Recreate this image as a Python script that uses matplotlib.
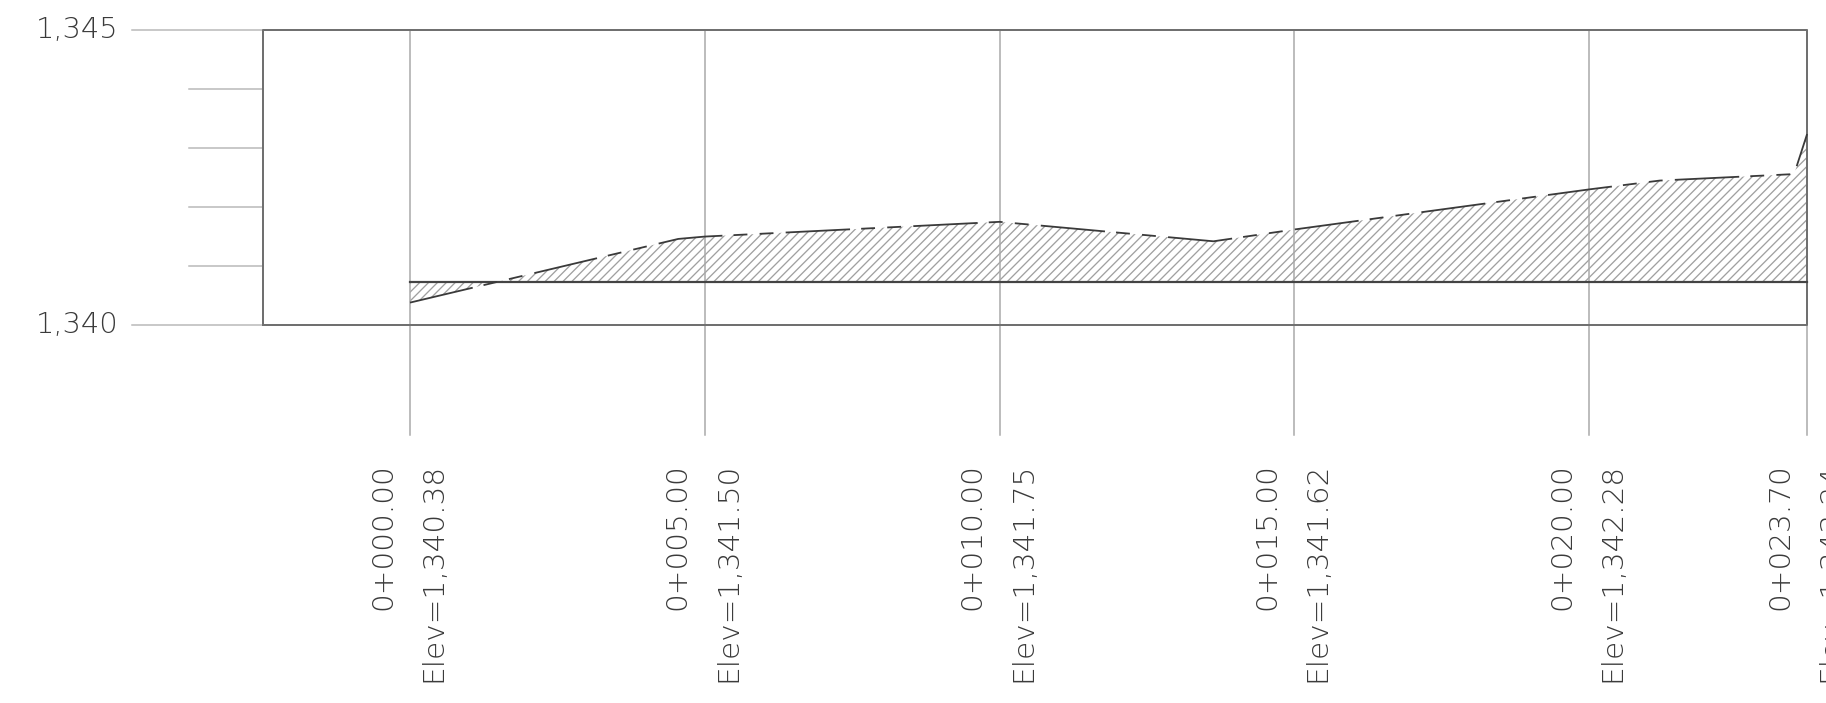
import numpy as np
import matplotlib
matplotlib.use('Agg')
import matplotlib.pyplot as plt

# profile data (stations in m, elevations in m)
stations = [0, 5, 10, 15, 20, 23.70]
station_labels = ['0+000.00', '0+005.00', '0+010.00', '0+015.00', '0+020.00', '0+023.70']
elev_labels = ['Elev=1,340.38', 'Elev=1,341.50', 'Elev=1,341.75', 'Elev=1,341.62',
               'Elev=1,342.28', 'Elev=1,343.24']

ground_st = [0, 4.55, 5, 10, 13.63, 15, 20, 21.2, 23.48, 23.70]
ground_el = [1340.38, 1341.46, 1341.50, 1341.75, 1341.42, 1341.62, 1342.30, 1342.45, 1342.56, 1343.24]

datum_el = 1340.73
y_major = [1340, 1345]
y_major_labels = ['1,340', '1,345']
y_minor = [1341, 1342, 1343, 1344]

frame_left = -2.5
frame_right = 23.70
grid_bottom = 1338.13

# pixel scale of the drawing
px_per_m = 58.95
W, H = 1826, 703
x0_px, y0_px = 410, 325   # where station 0 / elev 1340 sit

dpi = 80
plt.rcParams['lines.scale_dashes'] = False
plt.rcParams['font.family'] = ['DejaVu Sans']
fig = plt.figure(figsize=(W / dpi, H / dpi), dpi=dpi)
ax = fig.add_axes([0, 0, 1, 1])
ax.set_xlim(-x0_px / px_per_m, (W - x0_px) / px_per_m)
ax.set_ylim(1340 - (H - y0_px) / px_per_m, 1340 + y0_px / px_per_m)
ax.axis('off')

px = 72 / dpi  # one pixel in points
frame_c = '#707070'
grid_c = '#a8a8a8'
text_c = '#3a3a3a'

# hatched area between ground and datum
plt.rcParams['hatch.linewidth'] = 1.3 * px
st = np.array(ground_st)
gl = np.array(ground_el)
ax.fill_between(st, gl, datum_el, facecolor='none', edgecolor='#a0a0a0',
                hatch='///', linewidth=0)

# station grid lines
for s in stations:
    ax.plot([s, s], [grid_bottom, y_major[1]], color=grid_c, lw=1.5 * px, zorder=1)

# elevation tick lines to the left of frame
for e in y_major:
    ax.plot([-4.72, frame_left], [e, e], color='#b8b8b8', lw=1.5 * px, zorder=1)
for e in y_minor:
    ax.plot([-3.75, frame_left], [e, e], color='#b8b8b8', lw=1.5 * px, zorder=1)
for e, lab in zip(y_major, y_major_labels):
    ax.text(-4.95, e, lab, ha='right', va='center', fontsize=26, color=text_c,
            fontweight='light')

# frame
ax.plot([frame_left, frame_left, frame_right, frame_right, frame_left],
        [y_major[0], y_major[1], y_major[1], y_major[0], y_major[0]],
        color=frame_c, lw=2 * px, zorder=3)

# datum line
ax.plot([stations[0], frame_right], [datum_el, datum_el], color='#444444', lw=2.2 * px, zorder=4)

# ground line (CAD style dashed)
ax.plot(ground_st, ground_el, color='#3a3a3a', lw=1.8 * px, zorder=5,
        dashes=(58, 10, 12.5, 11, 12.5, 11))

# station labels
for s, a, b in zip(stations, station_labels, elev_labels):
    ax.text(s - 0.03, 1337.66, a + '\n' + b, rotation=90, ha='center', va='top',
            multialignment='right', fontsize=26.5, color=text_c, linespacing=2.02,
            fontweight='light')

fig.savefig('out.png', dpi=dpi)
